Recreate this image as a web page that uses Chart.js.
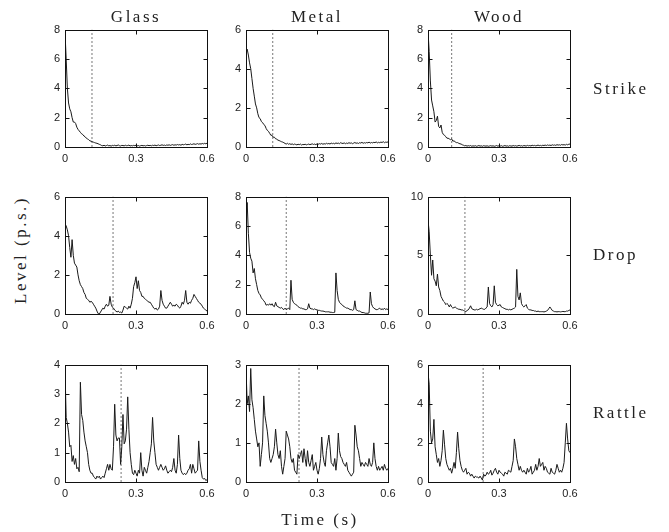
<!DOCTYPE html>
<html>
<head>
<meta charset="utf-8">
<script src="https://cdn.jsdelivr.net/npm/chart.js@4.4.0/dist/chart.umd.min.js"></script>
<style>
  body { margin: 0; background: #fff; }
  #wrap { position: relative; width: 669px; height: 532px; overflow: hidden; }
  #wrap canvas { position: absolute; }
  .lbl { position: absolute; font-family: "Liberation Serif", serif; font-size: 17px; color: #222;
         letter-spacing: 2.5px; white-space: nowrap; line-height: 1; }
</style>
</head>
<body>
<div id="wrap"></div>
<script>
// sample spacing of the level traces (s)
const DT = 0.005;
const materials = ["Glass", "Metal", "Wood"];
const actions = ["Strike", "Drop", "Rattle"];
const xTicks = [0, 0.3, 0.6];

// y tick sets per row / column
const yTickSets = [
  [[0, 2, 4, 6, 8], [0, 2, 4, 6], [0, 2, 4, 6, 8]],
  [[0, 2, 4, 6], [0, 2, 4, 6, 8], [0, 5, 10]],
  [[0, 1, 2, 3, 4], [0, 1, 2, 3], [0, 2, 4, 6]]
];
// dotted marker times (s)
const markers = [
  [0.114, 0.113, 0.100],
  [0.203, 0.170, 0.156],
  [0.237, 0.224, 0.233]
];

const glassStrike = [7.8, 6.0, 4.0, 3.0, 2.6, 2.4, 2.0, 1.7, 1.7, 1.6,
  1.35, 1.2, 1.1, 1.0, 0.9, 0.85, 0.75, 0.7, 0.6, 0.55,
  0.5, 0.42, 0.4, 0.36, 0.33, 0.3, 0.27, 0.25, 0.22, 0.18,
  0.15, 0.1, 0.08, 0.12, 0.07, 0.1, 0.13, 0.08, 0.1, 0.06,
  0.11, 0.09, 0.12, 0.08, 0.1, 0.14, 0.09, 0.07, 0.11, 0.1,
  0.08, 0.12, 0.09, 0.1, 0.13, 0.07, 0.1, 0.08, 0.11, 0.09,
  0.12, 0.08, 0.1, 0.06, 0.09, 0.11, 0.08, 0.1, 0.07, 0.1,
  0.12, 0.09, 0.11, 0.08, 0.12, 0.1, 0.13, 0.09, 0.11, 0.14,
  0.1, 0.12, 0.15, 0.11, 0.13, 0.1, 0.14, 0.12, 0.15, 0.11,
  0.14, 0.16, 0.12, 0.15, 0.13, 0.17, 0.14, 0.16, 0.12, 0.18,
  0.15, 0.17, 0.2, 0.15, 0.18, 0.16, 0.21, 0.17, 0.19, 0.22,
  0.18, 0.2, 0.23, 0.19, 0.22, 0.2, 0.24, 0.21, 0.25, 0.22,
  0.26];
const metalStrike = [4.9, 5.0, 4.7, 4.3, 4.0, 3.5, 3.0, 2.6, 2.2, 2.0,
  1.7, 1.5, 1.45, 1.3, 1.25, 1.15, 1.1, 0.95, 0.85, 0.8,
  0.7, 0.6, 0.6, 0.5, 0.5, 0.42, 0.4, 0.35, 0.33, 0.3,
  0.27, 0.25, 0.22, 0.18, 0.15, 0.19, 0.14, 0.17, 0.13, 0.16,
  0.12, 0.15, 0.13, 0.11, 0.14, 0.12, 0.15, 0.1, 0.13, 0.12,
  0.14, 0.11, 0.13, 0.15, 0.12, 0.14, 0.16, 0.13, 0.15, 0.12,
  0.16, 0.14, 0.17, 0.15, 0.18, 0.14, 0.17, 0.15, 0.19, 0.16,
  0.18, 0.15, 0.2, 0.17, 0.19, 0.16, 0.21, 0.18, 0.2, 0.17,
  0.22, 0.19, 0.18, 0.21, 0.17, 0.2, 0.18, 0.22, 0.19, 0.21,
  0.17, 0.2, 0.23, 0.19, 0.21, 0.18, 0.22, 0.2, 0.24, 0.19,
  0.22, 0.2, 0.23, 0.21, 0.25, 0.2, 0.23, 0.21, 0.24, 0.22,
  0.26, 0.21, 0.24, 0.22, 0.25, 0.23, 0.27, 0.22, 0.25, 0.24,
  0.26];
const woodStrike = [7.9, 6.5, 4.5, 3.2, 2.8, 2.4, 1.7, 1.8, 2.1, 1.4,
  1.3, 1.5, 1.0, 0.85, 0.8, 0.7, 0.6, 0.6, 0.55, 0.5,
  0.55, 0.4, 0.42, 0.35, 0.3, 0.3, 0.25, 0.22, 0.2, 0.15,
  0.12, 0.08, 0.1, 0.06, 0.09, 0.07, 0.1, 0.05, 0.08, 0.06,
  0.09, 0.05, 0.07, 0.1, 0.06, 0.08, 0.05, 0.09, 0.07, 0.06,
  0.08, 0.05, 0.07, 0.09, 0.06, 0.08, 0.05, 0.07, 0.1, 0.06,
  0.08, 0.06, 0.09, 0.05, 0.07, 0.1, 0.06, 0.08, 0.05, 0.09,
  0.07, 0.06, 0.1, 0.07, 0.09, 0.06, 0.08, 0.11, 0.07, 0.09,
  0.06, 0.1, 0.08, 0.07, 0.11, 0.08, 0.1, 0.07, 0.12, 0.09,
  0.11, 0.08, 0.1, 0.13, 0.09, 0.11, 0.08, 0.12, 0.1, 0.13,
  0.1, 0.14, 0.11, 0.13, 0.1, 0.15, 0.12, 0.14, 0.11, 0.16,
  0.13, 0.15, 0.12, 0.17, 0.14, 0.16, 0.13, 0.18, 0.15, 0.19,
  0.2];

const glassDrop = [4.6, 4.5, 4.3, 4.0, 3.4, 2.9, 3.8, 3.0, 2.6, 2.5,
  2.4, 2.0, 1.7, 1.5, 1.4, 1.3, 1.1, 1.0, 0.8, 0.75,
  0.7, 0.6, 0.65, 0.6, 0.5, 0.4, 0.3, 0.15, 0.02, 0.0,
  0.1, 0.2, 0.3, 0.25, 0.4, 0.5, 0.4, 0.45, 0.9, 0.5,
  0.35, 0.3, 0.2, 0.15, 0.1, 0.15, 0.08, 0.1, 0.05, 0.2,
  0.4, 0.35, 0.3, 0.25, 0.4, 0.3, 0.5, 0.8, 1.4, 1.6,
  1.9, 1.3, 1.7, 1.2, 1.1, 0.9, 0.9, 0.8, 0.75, 0.7,
  0.65, 0.6, 0.6, 0.5, 0.4, 0.3, 0.25, 0.3, 0.2, 0.25,
  0.4, 1.2, 0.7, 0.5, 0.4, 0.3, 0.3, 0.4, 0.5, 0.6,
  0.5, 0.4, 0.45, 0.4, 0.5, 0.45, 0.35, 0.3, 0.4, 0.6,
  0.5, 0.7, 1.2, 0.6, 0.5, 0.6, 0.55, 0.7, 0.8, 1.0,
  0.9, 0.8, 0.7, 0.6, 0.55, 0.5, 0.4, 0.3, 0.25, 0.2,
  0.15];
const metalDrop = [6.5, 7.6, 5.5, 4.2, 3.8, 3.6, 2.8, 3.1, 2.4, 2.0,
  1.6, 1.4, 1.3, 1.1, 1.0, 0.9, 0.8, 0.6, 0.65, 0.6,
  0.7, 0.6, 0.7, 0.55, 0.5, 0.8, 0.55, 0.5, 0.45, 0.4,
  0.45, 0.35, 0.3, 0.4, 0.3, 0.35, 0.4, 0.3, 2.3, 1.0,
  0.8, 0.7, 0.65, 0.6, 0.5, 0.45, 0.4, 0.4, 0.35, 0.35,
  0.3, 0.3, 0.35, 0.7, 0.4, 0.35, 0.35, 0.3, 0.35, 0.3,
  0.28, 0.25, 0.25, 0.22, 0.2, 0.2, 0.18, 0.15, 0.15, 0.15,
  0.15, 0.12, 0.12, 0.1, 0.1, 0.12, 2.8, 1.6, 1.0, 0.8,
  0.7, 0.65, 0.55, 0.5, 0.45, 0.4, 0.4, 0.35, 0.3, 0.3,
  0.25, 0.3, 0.9, 0.3, 0.25, 0.2, 0.2, 0.15, 0.1, 0.1,
  0.08, 0.05, 0.05, 0.05, 0.08, 1.5, 0.7, 0.5, 0.4, 0.35,
  0.3, 0.3, 0.35, 0.4, 0.3, 0.35, 0.3, 0.4, 0.3, 0.35,
  0.3];
const woodDrop = [8.0, 7.0, 5.0, 3.3, 4.6, 3.0, 2.8, 2.4, 3.4, 2.3,
  2.0, 1.5, 1.3, 1.1, 1.0, 0.8, 0.9, 0.8, 0.6, 0.8,
  0.6, 0.5, 0.55, 0.6, 0.5, 0.45, 0.4, 0.4, 0.35, 0.35,
  0.3, 0.25, 0.2, 0.3, 0.35, 0.5, 0.7, 0.45, 0.4, 0.35,
  0.35, 0.4, 0.35, 0.4, 0.45, 0.5, 0.45, 0.4, 0.4, 0.5,
  0.6, 2.3, 0.9, 0.7, 0.6, 0.8, 2.4, 1.0, 0.8, 0.7,
  0.75, 0.8, 0.6, 0.55, 0.5, 0.45, 0.4, 0.4, 0.35, 0.4,
  0.35, 0.4, 0.45, 0.5, 0.6, 3.8, 1.5, 1.2, 1.8, 0.9,
  0.7, 0.6, 0.7, 0.8, 0.5, 0.4, 0.35, 0.35, 0.3, 0.3,
  0.25, 0.25, 0.2, 0.25, 0.2, 0.2, 0.2, 0.2, 0.18, 0.2,
  0.25, 0.3, 0.45, 0.6, 0.45, 0.3, 0.25, 0.2, 0.2, 0.18,
  0.2, 0.2, 0.18, 0.2, 0.22, 0.2, 0.2, 0.25, 0.25, 0.3,
  0.35];

const glassRattle = [3.8, 2.2, 2.0, 1.7, 1.2, 1.25, 0.7, 0.9, 0.6, 0.8,
  0.45, 0.5, 0.35, 3.4, 2.3, 2.1, 1.7, 1.4, 1.2, 1.0,
  0.6, 0.4, 0.3, 0.3, 0.2, 0.15, 0.1, 0.2, 0.15, 0.2,
  0.1, 0.15, 0.2, 0.15, 0.3, 0.45, 0.6, 0.4, 0.6, 0.45,
  0.4, 1.2, 2.65, 1.6, 1.4, 1.5, 1.5, 0.6, 1.2, 2.3,
  1.3, 1.4, 1.8, 2.9, 1.8, 1.0, 0.6, 0.3, 0.25, 0.4,
  0.3, 0.2, 0.4, 0.3, 1.0, 0.4, 0.2, 0.5, 0.4, 0.3,
  0.5, 0.7, 1.0, 1.3, 2.2, 1.4, 1.0, 0.6, 0.5, 0.4,
  0.5, 0.6, 0.5, 0.4, 0.45, 0.55, 0.4, 0.3, 0.35, 0.4,
  0.35, 0.5, 0.8, 0.4, 0.3, 0.6, 1.6, 0.8, 0.4, 0.3,
  0.25, 0.3, 0.25, 0.3, 0.4, 0.45, 0.6, 0.3, 0.6, 0.45,
  0.3, 0.35, 0.4, 1.4, 0.7, 0.4, 0.15, 0.1, 0.12, 0.05,
  0.08];
const metalRattle = [2.9, 2.0, 2.2, 1.8, 2.9, 2.1, 1.9, 1.6, 1.3, 1.1,
  0.9, 1.0, 0.4, 0.7, 1.0, 2.2, 1.7, 1.5, 1.3, 1.0,
  0.6, 0.5, 0.6, 0.7, 0.9, 1.35, 1.0, 0.7, 0.6, 0.8,
  0.4, 0.2, 0.4, 0.6, 1.3, 1.2, 1.1, 0.9, 0.6, 0.5,
  0.6, 0.3, 0.25, 0.2, 0.7, 0.6, 0.7, 0.8, 0.5, 0.85,
  0.6, 0.4, 0.8, 0.5, 0.4, 0.55, 0.7, 0.3, 0.4, 0.5,
  0.3, 0.2, 0.35, 0.6, 1.15, 0.7, 0.5, 0.4, 0.8, 1.0,
  1.2, 0.9, 0.5, 0.45, 0.4, 0.6, 0.3, 0.6, 1.25, 0.8,
  0.65, 0.6, 0.5, 0.45, 0.4, 0.5, 0.3, 0.25, 0.2, 0.15,
  0.2, 0.25, 1.45, 1.2, 0.9, 0.8, 0.6, 0.4, 0.5, 0.45,
  0.4, 0.5, 0.45, 0.4, 0.6, 0.45, 0.4, 0.5, 1.0, 0.6,
  0.4, 0.3, 0.4, 0.3, 0.35, 0.4, 0.3, 0.45, 0.35, 0.3,
  0.35];
const woodRattle = [5.6, 5.0, 2.6, 2.0, 2.2, 3.2, 1.8, 1.4, 1.0, 1.2,
  0.8, 1.1, 1.6, 2.65, 1.9, 1.2, 0.9, 0.75, 0.6, 0.7,
  0.45, 0.7, 1.0, 0.7, 1.5, 2.55, 1.7, 1.1, 0.8, 0.6,
  0.5, 0.6, 0.7, 0.4, 0.5, 0.45, 0.3, 0.4, 0.3, 0.2,
  0.3, 0.25, 0.25, 0.2, 0.3, 0.2, 0.1, 0.4, 0.3, 0.35,
  0.5, 0.4, 0.45, 0.6, 0.35, 0.45, 0.6, 0.7, 0.5, 0.4,
  0.6, 0.5, 0.45, 0.4, 0.3, 0.5, 0.45, 0.4, 0.6, 0.55,
  0.5, 0.8, 1.1, 2.2, 1.8, 1.2, 0.9, 0.6, 0.8, 0.6,
  0.5, 0.6, 0.5, 0.4, 0.7, 0.5, 0.6, 0.8, 0.4, 0.5,
  0.6, 0.9, 0.6, 0.8, 1.2, 0.8, 0.9, 1.0, 0.6, 0.8,
  0.7, 0.5, 0.45, 0.4, 0.7, 0.5, 0.45, 0.4, 0.6, 0.9,
  0.7, 0.5, 0.6, 0.5, 0.7, 1.0, 2.0, 3.0, 2.2, 1.6,
  1.5];

const levels = [
  [glassStrike, metalStrike, woodStrike],
  [glassDrop, metalDrop, woodDrop],
  [glassRattle, metalRattle, woodRattle]
];

// layout of the plot boxes (px)
const colLeft = [65, 246, 428];
const rowTop = [28, 195, 363];
const boxW = 142, boxH = 119;
const padL = 30, padT = 10, padR = 20, padB = 22;
const rowLabelY = [88, 254, 412];

const tickFont = { family: "'Liberation Sans', Arial, sans-serif", size: 11 };

const frame = {
  id: "frame",
  afterDatasetsDraw(chart) {
    const { ctx, chartArea: a, scales } = chart;
    const L = Math.round(a.left) + 0.5, R = Math.round(a.right) + 0.5;
    const T = Math.round(a.top) + 0.5, B = Math.round(a.bottom) + 0.5;
    ctx.save();
    ctx.strokeStyle = "#111";
    ctx.lineWidth = 1;
    ctx.strokeRect(L, T, R - L, B - T);
    ctx.beginPath();
    scales.y.ticks.forEach(t => {
      const py = Math.round(scales.y.getPixelForValue(t.value)) + 0.5;
      ctx.moveTo(L, py); ctx.lineTo(L + 4, py);
      ctx.moveTo(R, py); ctx.lineTo(R - 4, py);
    });
    scales.x.ticks.forEach(t => {
      const px = Math.round(scales.x.getPixelForValue(t.value)) + 0.5;
      ctx.moveTo(px, B); ctx.lineTo(px, B - 4);
      ctx.moveTo(px, T); ctx.lineTo(px, T + 4);
    });
    ctx.stroke();
    ctx.restore();
  }
};

const wrap = document.getElementById("wrap");

function addLabel(text, x, y, anchor, rotate) {
  const d = document.createElement("div");
  d.className = "lbl";
  d.textContent = text;
  d.style.left = x + "px";
  d.style.top = y + "px";
  const tx = anchor === "center" ? "-50%" : "0";
  d.style.transform = "translate(" + tx + ", -50%)" + (rotate ? " rotate(-90deg)" : "");
  wrap.appendChild(d);
}

for (let r = 0; r < 3; r++) {
  for (let c = 0; c < 3; c++) {
    const vals = levels[r][c];
    const yt = yTickSets[r][c];
    const yMax = yt[yt.length - 1];
    const cv = document.createElement("canvas");
    cv.width = padL + boxW + padR;
    cv.height = padT + boxH + padB;
    cv.style.left = (colLeft[c] - padL) + "px";
    cv.style.top = (rowTop[r] - padT) + "px";
    wrap.appendChild(cv);

    new Chart(cv.getContext("2d"), {
      type: "line",
      data: {
        datasets: [
          {
            data: vals.map((v, i) => ({ x: +(i * DT).toFixed(3), y: v })),
            borderColor: "#1a1a1a",
            borderWidth: 1,
            pointRadius: 0,
            tension: 0
          },
          {
            data: [{ x: markers[r][c], y: 0 }, { x: markers[r][c], y: yMax }],
            borderColor: "#777",
            borderWidth: 1,
            borderDash: [2, 2],
            pointRadius: 0
          }
        ]
      },
      options: {
        responsive: false,
        animation: false,
        devicePixelRatio: 1,
        layout: { padding: { left: 0, top: padT, right: padR, bottom: 0 } },
        plugins: { legend: { display: false }, tooltip: { enabled: false } },
        scales: {
          x: {
            type: "linear",
            min: 0,
            max: 0.6,
            grid: { display: false, drawTicks: false },
            border: { display: false },
            afterBuildTicks: s => { s.ticks = xTicks.map(v => ({ value: v })); },
            afterFit: s => { s.height = padB; },
            ticks: {
              font: tickFont, color: "#222", padding: 5, maxRotation: 0,
              callback: v => String(v)
            }
          },
          y: {
            min: 0,
            max: yMax,
            grid: { display: false, drawTicks: false },
            border: { display: false },
            afterBuildTicks: s => { s.ticks = yt.map(v => ({ value: v })); },
            afterFit: s => { s.width = padL; },
            ticks: { font: tickFont, color: "#222", padding: 5, callback: v => String(v) }
          }
        }
      },
      plugins: [frame]
    });
  }
}

materials.forEach((m, c) => addLabel(m, colLeft[c] + boxW / 2, 16, "center"));
actions.forEach((a, r) => addLabel(a, 593, rowLabelY[r], "left"));
addLabel("Time (s)", 320, 519, "center");
addLabel("Level (p.s.)", 20, 250, "center", true);
</script>
</body>
</html>
